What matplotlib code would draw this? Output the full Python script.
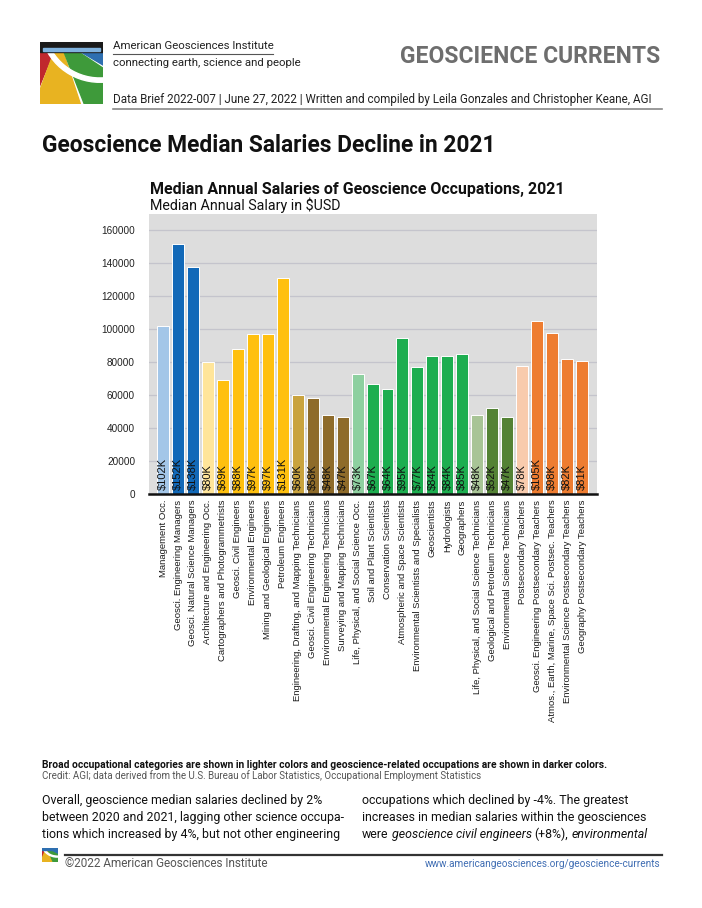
# -*- coding: utf-8 -*-

import matplotlib
matplotlib.use("Agg")
import matplotlib.pyplot as plt
import numpy as np
from matplotlib.transforms import Affine2D
from matplotlib.patches import Wedge, Rectangle

occupations = [
    "Management Occ.",
    "Geosci. Engineering Managers",
    "Geosci. Natural Science Managers",
    "Architecture and Engineering Occ.",
    "Cartographers and Photogrammetrists",
    "Geosci. Civil Engineers",
    "Environmental Engineers",
    "Mining and Geological Engineers",
    "Petroleum Engineers",
    "Engineering, Drafting, and Mapping Technicians",
    "Geosci. Civil Engineering Technicians",
    "Environmental Engineering Technicians",
    "Surveying and Mapping Technicians",
    "Life, Physical, and Social Science Occ.",
    "Soil and Plant Scientists",
    "Conservation Scientists",
    "Atmospheric and Space Scientists",
    "Environmental Scientists and Specialists",
    "Geoscientists",
    "Hydrologists",
    "Geographers",
    "Life, Physical, and Social Science Technicians",
    "Geological and Petroleum Technicians",
    "Environmental Science Technicians",
    "Postsecondary Teachers",
    "Geosci. Engineering Postsecondary Teachers",
    "Atmos., Earth, Marine, Space Sci. Postsec. Teachers",
    "Environmental Science Postsecondary Teachers",
    "Geography Postsecondary Teachers",
]

salary_k = [102, 152, 138, 80, 69, 88, 97, 97, 131, 60, 58, 48, 47, 73, 67,
            64, 95, 77, 84, 84, 85, 48, 52, 47, 78, 105, 98, 82, 81]

bar_colors = (["#A3C6E8"] + ["#1269B8"] * 2
              + ["#FFE59A"] + ["#FFC00F"] * 5
              + ["#C9A33E"] + ["#8E6B2A"] * 3
              + ["#8ED0A0"] + ["#1DAE50"] * 7
              + ["#A8C496"] + ["#548235"] * 2
              + ["#F8CBAD"] + ["#EE7D31"] * 4)

yticks = [0, 20000, 40000, 60000, 80000, 100000, 120000, 140000, 160000]

left_col = [
    "Overall, geoscience median salaries declined by 2%",
    "between 2020 and 2021, lagging other science occupa-",
    "tions which increased by 4%, but not other engineering",
]
right_col = [
    "occupations which declined by -4%. The greatest",
    "increases in median salaries within the geosciences",
]
right_last = [("were", "normal"), ("geoscience civil engineers", "italic"),
              ("(+8%),", "normal"), ("environmental", "italic")]

W, H = 702, 908
fig = plt.figure(figsize=(W / 100, H / 100), dpi=100)
fig.patch.set_facecolor("white")
# pixel coordinates, origin top-left
pix = Affine2D().scale(1 / W, -1 / H).translate(0, 1) + fig.transFigure

def ptext(x, y, s, **kw):
    kw.setdefault("va", "baseline")
    return fig.text(x, y, s, transform=pix, **kw)

def pline(x0, x1, y, **kw):
    fig.add_artist(plt.Line2D([x0, x1], [y, y], transform=pix, **kw))

def pax(x0, y0, x1, y1):
    return fig.add_axes([x0 / W, 1 - y1 / H, (x1 - x0) / W, (y1 - y0) / H])

cond = ["Roboto", "DejaVu Sans"]
arial = ["Liberation Sans", "DejaVu Sans"]

# ---- logo (rough sketch of the AGI mark) ----
def logo(ax, small=False):
    ax.set_xlim(0, 1)
    ax.set_ylim(0, 1)
    ax.axis("off")
    c = (0.3, 1.05)
    ax.add_patch(Wedge(c, 1.6, 180, 248, color="#C0282D"))
    ax.add_patch(Wedge(c, 1.6, 250, 288, color="#E8B321"))
    ax.add_patch(Wedge(c, 1.6, 291, 326, color="#3E9A3A"))
    ax.add_patch(Wedge(c, 1.6, 329, 370, color="#2E6FB0"))
    ax.add_patch(Wedge((0.95, 1.3), 0.95, 200, 280, width=0.07, color="white"))
    if not small:
        ax.add_patch(Rectangle((0, 0.84), 1, 0.16, color="#1A1A1A"))
        ax.add_patch(Rectangle((0.05, 0.86), 0.9, 0.05, color="#7FB2DE"))
    else:
        ax.add_patch(Rectangle((0, 0.86), 1, 0.14, color="#2E6FB0"))

logo(pax(40, 42, 103, 104))
logo(pax(42, 848, 58, 862), small=True)

# ---- header ----
ptext(113, 49, "American Geosciences Institute", family=cond, size=8.2, color="#222222")
pline(113, 273, 53.5, color="#555555", lw=0.8)
ptext(113, 66, "connecting earth, science and people", family=cond, size=8.2, color="#222222")
ptext(660, 63, "GEOSCIENCE CURRENTS", family=cond, size=16.5, weight="bold",
      color="#6E6E6E", ha="right")
ptext(113, 103, "Data Brief 2022-007 | June 27, 2022 | Written and compiled by Leila Gonzales "
      "and Christopher Keane, AGI", family=cond, size=8.4, color="#222222")
pline(113, 662, 109, color="#888888", lw=1.2)

ptext(42, 152, "Geoscience Median Salaries Decline in 2021", family=cond, size=16.4,
      weight="bold", color="#111111")

# ---- chart ----
ptext(150, 194, "Median Annual Salaries of Geoscience Occupations, 2021", family=cond,
      size=11.5, weight="bold", color="#111111")
ptext(150, 210, "Median Annual Salary in $USD", family=cond, size=10.3, color="#111111")

ax = pax(149, 214, 597, 494)
x = np.arange(len(occupations))
values = np.array(salary_k) * 1000
ax.set_facecolor("#DDDDDD")
ax.set_axisbelow(True)
ax.grid(axis="y", color="#C4C4CC", linewidth=0.9)
ax.bar(x, values, width=0.8, color=bar_colors, edgecolor="white", linewidth=0.7)
for i, v in enumerate(salary_k):
    ax.annotate("${}K".format(v), (i, 0), xytext=(0, 3), textcoords="offset points",
                rotation=90, ha="center", va="bottom", family=arial, size=8.0,
                color="#111111")
ax.set_xlim(-0.94, 29.0)
ax.set_ylim(0, 170000)
ax.set_yticks(yticks)
ax.set_yticklabels([str(t) for t in yticks], family=arial, size=7.2, color="#222222")
ax.set_xticks(x)
ax.set_xticklabels(occupations, rotation=90, family=arial, size=6.8, color="#1A1A1A",
                   va="top", ha="center")
ax.tick_params(axis="both", length=0)
ax.tick_params(axis="y", pad=10)
ax.tick_params(axis="x", pad=4)
for s in ["top", "right", "left"]:
    ax.spines[s].set_visible(False)
ax.spines["bottom"].set_color("#111111")
ax.spines["bottom"].set_linewidth(1.8)

# ---- captions ----
ptext(42, 768, "Broad occupational categories are shown in lighter colors and geoscience-related "
      "occupations are shown in darker colors.", family=cond, size=7.4, weight="bold",
      color="#111111")
ptext(42, 779, "Credit: AGI; data derived from the U.S. Bureau of Labor Statistics, "
      "Occupational Employment Statistics", family=cond, size=7.0, color="#555555")

for k, line in enumerate(left_col):
    ptext(42, 804 + 17 * k, line, family=cond, size=8.9, color="#111111")
for k, line in enumerate(right_col):
    ptext(362, 804 + 17 * k, line, family=cond, size=8.9, color="#111111")

# last right line has italic parts, placed piece by piece
renderer = fig.canvas.get_renderer()
xpos = 362
for s, st in right_last:
    t = ptext(xpos, 838, s, family=cond, size=8.9, style=st, color="#111111")
    xpos += t.get_window_extent(renderer).width + 3

# ---- footer ----
pline(65, 662, 855, color="#333333", lw=1.6)
ptext(65, 867, "\u00a92022 American Geosciences Institute", family=cond, size=8.5,
      color="#555555")
ptext(660, 867, "www.americangeosciences.org/geoscience-currents", family=cond, size=7.2,
      color="#3F6DB3", ha="right")

fig.savefig("out.png", dpi=100)
